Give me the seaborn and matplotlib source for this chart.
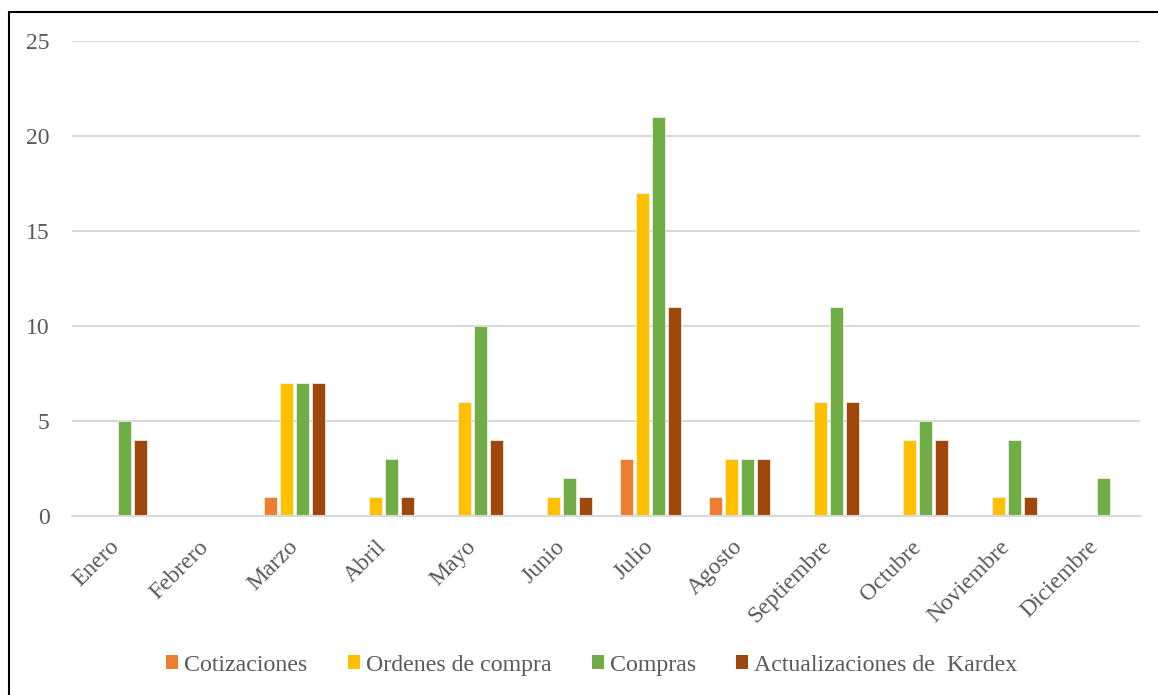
import pandas as pd
import matplotlib.pyplot as plt
import seaborn as sns
from matplotlib.lines import Line2D
from matplotlib.patches import Patch

# monthly counts
meses = ['Enero', 'Febrero', 'Marzo', 'Abril', 'Mayo', 'Junio', 'Julio',
         'Agosto', 'Septiembre', 'Octubre', 'Noviembre', 'Diciembre']
cotizaciones = [0, 0, 1, 0, 0, 0, 3, 1, 0, 0, 0, 0]
ordenes = [0, 0, 7, 1, 6, 1, 17, 3, 6, 4, 1, 0]
compras = [5, 0, 7, 3, 10, 2, 21, 3, 11, 5, 4, 2]
kardex = [4, 0, 7, 1, 4, 1, 11, 3, 6, 4, 1, 0]

series = ['Cotizaciones', 'Ordenes de compra', 'Compras', 'Actualizaciones de  Kardex']
colores = ['#ED7D31', '#FFC000', '#70AD47', '#9E480E']

# long format for seaborn
df = pd.DataFrame({
    'mes': meses * 4,
    'serie': [s for s in series for _ in meses],
    'valor': cotizaciones + ordenes + compras + kardex,
})

sns.set_style('white')
plt.rcParams['font.family'] = ['Liberation Serif', 'DejaVu Serif']
gris = '#595959'

fig = plt.figure(figsize=(11.58, 6.95), dpi=100)
ax = fig.add_axes([0.0622, 0.2576, 0.9223, 0.6834])

sns.barplot(data=df, x='mes', y='valor', hue='serie', hue_order=series,
            palette=colores, saturation=1, width=0.72, gap=0.18, ax=ax,
            legend=False, edgecolor='#f4f4f4', linewidth=0.5)

ax.set_ylim(0, 25)
ax.set_xlim(-0.5, len(meses) - 0.5)
ax.set_yticks(range(0, 26, 5))
ax.yaxis.grid(True, color='#D9D9D9', linewidth=1.5)
ax.set_axisbelow(True)
for s in ['top', 'right', 'left']:
    ax.spines[s].set_visible(False)
ax.spines['bottom'].set_color('#D9D9D9')
ax.spines['bottom'].set_linewidth(1.5)
ax.set_xlabel('')
ax.set_ylabel('')
ax.tick_params(axis='both', length=0, colors=gris)
ax.tick_params(axis='y', pad=16, labelsize=17)
ax.tick_params(axis='x', pad=20, labelsize=17)
plt.setp(ax.get_xticklabels(), rotation=45, ha='right', va='center',
         rotation_mode='anchor')

handles = [Patch(facecolor=c, edgecolor='none') for c in colores]
fig.legend(handles, series, loc='center', bbox_to_anchor=(0.511, 0.043), ncol=4,
           frameon=False, fontsize=17.2, labelcolor=gris, handlelength=0.5,
           handleheight=0.5, handletextpad=0.25, columnspacing=1.7)

# outer frame (only left and top edges are visible in the reference)
fig.add_artist(Line2D([9 / 1158, 9 / 1158], [0, 1 - 12 / 695], color='black',
                      linewidth=1.5, transform=fig.transFigure))
fig.add_artist(Line2D([9 / 1158, 1], [1 - 12 / 695, 1 - 12 / 695], color='black',
                      linewidth=1.5, transform=fig.transFigure))

fig.savefig('out.png', dpi=100)
